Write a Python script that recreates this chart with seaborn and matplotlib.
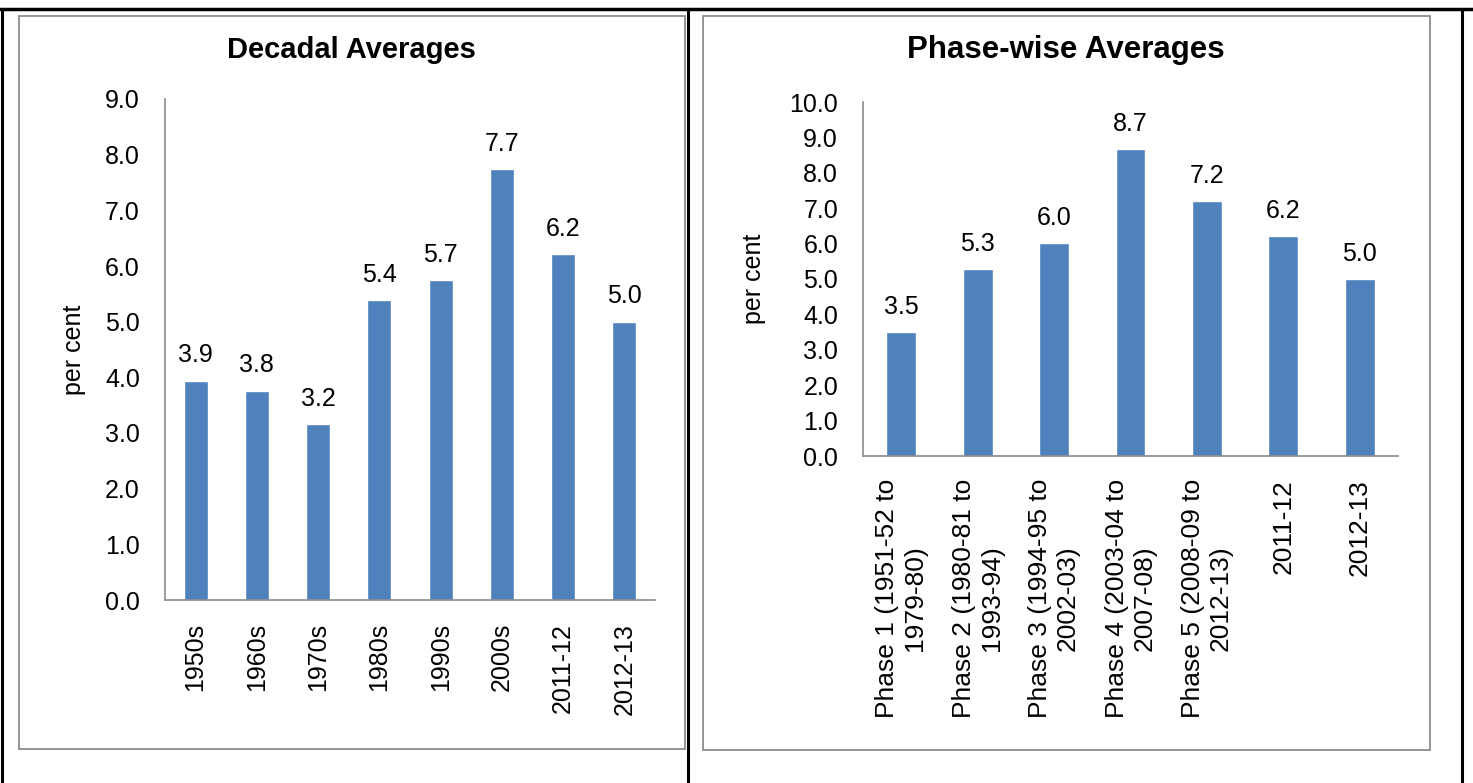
import matplotlib
matplotlib.use("Agg")
import matplotlib.pyplot as plt
import seaborn as sns
import pandas as pd
from matplotlib.patches import Rectangle
from matplotlib.lines import Line2D

# data
decades = ["1950s", "1960s", "1970s", "1980s", "1990s", "2000s", "2011-12", "2012-13"]
decade_vals = [3.94, 3.76, 3.16, 5.39, 5.74, 7.74, 6.22, 5.0]

phases = ["Phase 1 (1951-52 to\n1979-80)", "Phase 2 (1980-81 to\n1993-94)",
          "Phase 3 (1994-95 to\n2002-03)", "Phase 4 (2003-04 to\n2007-08)",
          "Phase 5 (2008-09 to\n2012-13)", "2011-12", "2012-13"]
phase_vals = [3.51, 5.28, 6.01, 8.68, 7.19, 6.21, 5.0]

left_ticks = [0, 1, 2, 3, 4, 5, 6, 7, 8, 9]
right_ticks = [0, 1, 2, 3, 4, 5, 6, 7, 8, 9, 10]

sns.set_theme(style="white")
plt.rcParams["font.family"] = ["Liberation Sans", "DejaVu Sans"]
plt.rcParams["text.color"] = "black"
plt.rcParams["axes.labelcolor"] = "black"
plt.rcParams["xtick.labelcolor"] = "black"
plt.rcParams["ytick.labelcolor"] = "black"

BAR = "#4F81BD"
GREY = "#8a8a8a"
FS = 18

fig = plt.figure(figsize=(14.73, 7.83), dpi=100)
W, H = 1473, 783

def px(x0, y0, x1, y1):
    # pixel box -> figure fraction [left, bottom, width, height]
    return [x0 / W, 1 - y1 / H, (x1 - x0) / W, (y1 - y0) / H]

# table borders and chart frames
for x in [2, 688, 1462]:
    fig.add_artist(Line2D([x / W, x / W], [0, 1 - 9 / H], color="black", lw=2.2))
fig.add_artist(Line2D([0, 1], [1 - 9 / H, 1 - 9 / H], color="black", lw=2.5))
for (x0, y0, x1, y1) in [(19, 16, 685, 749), (703, 16, 1430, 750)]:
    fig.add_artist(Rectangle((x0 / W, 1 - y1 / H), (x1 - x0) / W, (y1 - y0) / H,
                             fill=False, edgecolor="#8c8c8c", lw=1.3))


def draw(ax, cats, vals, ticks, title, title_x, title_fs, xfs, ylab_x):
    df = pd.DataFrame({"cat": cats, "val": vals})
    sns.barplot(data=df, x="cat", y="val", order=cats, color=BAR, saturation=1,
                width=0.39, ax=ax)
    n = len(cats)
    ax.set_xlim(-0.5, n - 0.5)
    ax.set_ylim(ticks[0], ticks[-1])
    ax.set_yticks(ticks)
    ax.set_yticklabels([f"{t:.1f}" for t in ticks], fontsize=FS)
    # tick marks sit between categories, labels at the centres
    ax.set_xticks([i - 0.5 for i in range(n + 1)])
    ax.set_xticklabels([])
    ax.set_xticks(range(n), minor=True)
    ax.set_xticklabels(cats, minor=True, rotation=90, fontsize=xfs,
                       va="top", ha="center", multialignment="center")
    ax.tick_params(axis="x", which="minor", length=0, pad=16.5)
    ax.tick_params(axis="x", which="major", length=6, color=GREY, width=1.2, direction="out")
    ax.tick_params(axis="y", length=6, color=GREY, width=1.2, direction="out", pad=12)
    for s in ["top", "right"]:
        ax.spines[s].set_visible(False)
    for s in ["left", "bottom"]:
        ax.spines[s].set_color(GREY)
        ax.spines[s].set_linewidth(1.2)
    ax.set_xlabel("")
    ax.set_ylabel("per cent", fontsize=FS)
    ax.yaxis.set_label_coords(ylab_x, 0.5)
    for i, v in enumerate(vals):
        ax.annotate(f"{v:.1f}", (i, v), xytext=(0, 9.5), textcoords="offset points",
                    ha="center", va="bottom", fontsize=FS)
    fig.text(title_x / W, 1 - 50 / H, title, ha="center", va="center",
             fontsize=title_fs, fontweight="bold")


ax1 = fig.add_axes(px(165, 99, 655, 600))
draw(ax1, decades, decade_vals, left_ticks, "Decadal Averages", 351, 21, FS, -0.161)

ax2 = fig.add_axes(px(863, 102, 1398, 456))
draw(ax2, phases, phase_vals, right_ticks, "Phase-wise Averages", 1066, 22.5, 19, -0.181)

fig.savefig("out.png", dpi=100)
